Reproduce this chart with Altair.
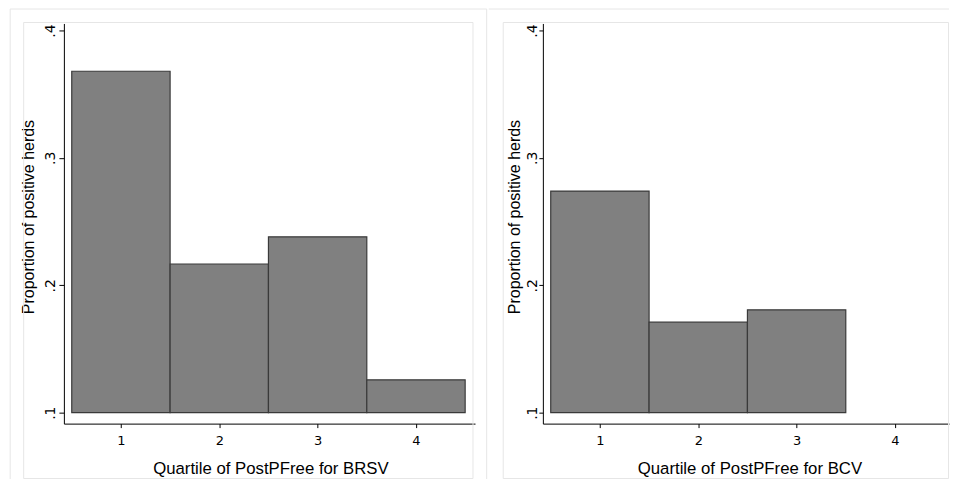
import altair as alt
import pandas as pd

# ---- data ----
brsv_quartiles = [1, 2, 3, 4]
brsv_values = [0.368, 0.2167, 0.238, 0.1258]
bcv_quartiles = [1, 2, 3]
bcv_values = [0.2739, 0.171, 0.1807]
x_ticks = [1, 2, 3, 4]
y_ticks = [0.1, 0.2, 0.3, 0.4]
y_tick_labels = [".1", ".2", ".3", ".4"]
bar_base = 0.1

H = 401
PX_PER_UNIT = 98.56
Y_DOMAIN = [0.0914, 0.4055]
FRAME = "#e6e6e6"

y_label_expr = " : ".join(
    f"datum.value == {v} ? '{l}'" for v, l in zip(y_ticks, y_tick_labels)
) + " : ''"


def frame_rule(**enc):
    return alt.Chart(alt.Data(values=[{"k": 1}])).mark_rule(
        color=FRAME, strokeWidth=1
    ).encode(**enc)


def frame_rect(**enc):
    return alt.Chart(alt.Data(values=[{"k": 1}])).mark_rect(
        fill="white", fillOpacity=0, stroke=FRAME, strokeWidth=1
    ).encode(**enc)


def panel(qs, vals, xtitle, left):
    df = pd.DataFrame({
        "q": qs,
        "lo": [q - 0.5 for q in qs],
        "hi": [q + 0.5 for q in qs],
        "val": vals,
        "base": [bar_base] * len(qs),
    })
    if left:
        W = 412
        ytick, ypad, ytitle_x = 5, 4.5, -30.5
    else:
        W = 407
        ytick, ypad, ytitle_x = 4, 2.0, -23.5
    x_domain = [0.42, 0.42 + W / PX_PER_UNIT]
    bars = alt.Chart(df).mark_rect(
        fill="#808080", stroke="#3a3a3a", strokeWidth=1.2
    ).encode(
        x=alt.X("lo:Q",
                scale=alt.Scale(domain=x_domain, nice=False, zero=False),
                axis=alt.Axis(values=x_ticks, format="d", grid=False,
                              labelFont="DejaVu Sans", labelFontSize=13,
                              labelColor="black", labelFlush=False,
                              labelPadding=7, tickSize=4, tickColor="black",
                              domainColor="black", domainWidth=1,
                              title=xtitle, titleFont="Liberation Sans",
                              titleFontSize=16.8, titleFontWeight="normal",
                              titleColor="black", titleBaseline="alphabetic",
                              titleAlign="center", titleX=207, titleY=50)),
        x2="hi:Q",
        y=alt.Y("val:Q",
                scale=alt.Scale(domain=Y_DOMAIN, nice=False, zero=False),
                axis=alt.Axis(values=y_ticks, labelExpr=y_label_expr, grid=False,
                              labelAngle=270, labelAlign="center",
                              labelBaseline="alphabetic", labelFont="DejaVu Sans",
                              labelFontSize=14, labelColor="black",
                              labelPadding=ypad, labelFlush=False, labelOverlap=False,
                              tickSize=ytick, tickColor="black",
                              domainColor="black", domainWidth=1,
                              title="Proportion of positive herds",
                              titleFont="Liberation Sans", titleFontSize=16,
                              titleFontWeight="normal", titleColor="black",
                              titleAngle=270, titleAlign="center",
                              titleBaseline="alphabetic",
                              titleX=ytitle_x, titleY=193.5)),
        y2="base:Q",
    )
    if left:
        layers = [
            frame_rule(x=alt.value(-53.8), x2=alt.value(423.7), y=alt.value(-14.5)),
            frame_rule(x=alt.value(-53.8), y=alt.value(-14.5), y2=alt.value(456.5)),
            frame_rule(x=alt.value(423.7), y=alt.value(-14.5), y2=alt.value(456.5)),
            frame_rect(x=alt.value(-40.3), x2=alt.value(410),
                       y=alt.value(-1), y2=alt.value(456)),
        ]
    else:
        layers = [
            frame_rule(x=alt.value(-54.2), x2=alt.value(407), y=alt.value(-14.5)),
            frame_rect(x=alt.value(-39.7), x2=alt.value(406.5),
                       y=alt.value(-1), y2=alt.value(456)),
        ]
    return alt.layer(*layers, bars).properties(width=W, height=H)


left = panel(brsv_quartiles, brsv_values, "Quartile of PostPFree for BRSV", True)
right = panel(bcv_quartiles, bcv_values, "Quartile of PostPFree for BCV", False)

chart = alt.hconcat(left, right, spacing=0).properties(
    padding={"left": 1, "top": 0, "right": 0, "bottom": 0},
    background="white",
).configure_view(strokeWidth=0)

chart.save("out.html", embed_options={"renderer": "svg", "actions": False})
